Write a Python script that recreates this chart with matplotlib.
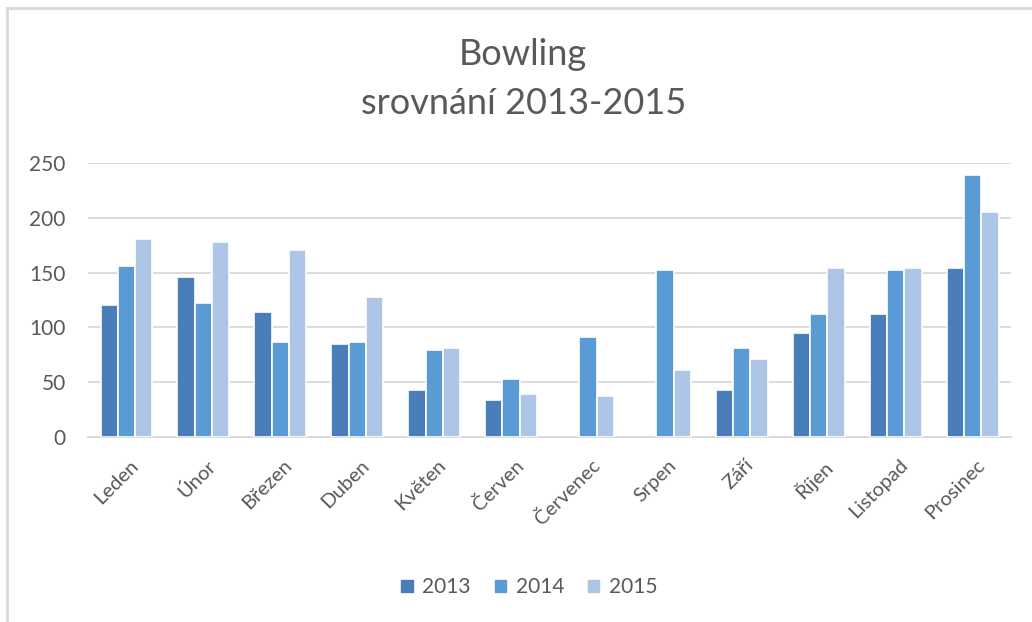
import matplotlib
matplotlib.use("Agg")
import matplotlib.pyplot as plt
import numpy as np
from matplotlib.lines import Line2D
from matplotlib.transforms import ScaledTranslation

months = ["Leden", "Únor", "Březen", "Duben", "Květen", "Červen",
          "Červenec", "Srpen", "Září", "Říjen", "Listopad", "Prosinec"]
v2013 = [120, 146, 114, 85, 43, 34, 0, 0, 43, 95, 112, 154]
v2014 = [156, 122, 87, 87, 79, 53, 91, 152, 81, 112, 152, 239]
v2015 = [181, 178, 171, 128, 81, 39, 37, 61, 71, 154, 154, 205]
series = ["2013", "2014", "2015"]
colors = ["#4A7EBB", "#5B9BD5", "#ADC5E7"]
yticks = [0, 50, 100, 150, 200, 250]

plt.rcParams['font.family'] = ['Lato', 'DejaVu Sans']
txt = "#595959"

fig = plt.figure(figsize=(10.32, 6.22), dpi=100)
ax = fig.add_axes([0.0853, 0.2974, 0.8944, 0.4406])

x = np.arange(len(months))
step = 0.225
for i, (vals, c, lab) in enumerate(zip([v2013, v2014, v2015], colors, series)):
    vv = np.array(vals, dtype=float)
    vv[vv == 0] = np.nan
    ax.bar(x + (i - 1) * step, vv, width=step, color=c, edgecolor="white",
           linewidth=1.2, label=lab, zorder=3)

ax.set_xlim(-0.5, len(months) - 0.5)
ax.set_ylim(0, 250)
ax.set_yticks(yticks)
ax.set_yticklabels([str(t) for t in yticks], fontsize=15, color=txt)
ax.grid(axis="y", color="#D9D9D9", linewidth=1.3, zorder=0)
ax.tick_params(axis="y", length=0, pad=16)
ax.set_xticks(x)
ax.set_xticklabels(months, rotation=45, ha="right", rotation_mode="anchor",
                   fontsize=14.5, color=txt)
ax.tick_params(axis="x", length=0, pad=14)
offset = ScaledTranslation(3/100, 0, fig.dpi_scale_trans)
for lbl in ax.get_xticklabels():
    lbl.set_transform(lbl.get_transform() + offset)
for s in ["top", "right", "left"]:
    ax.spines[s].set_visible(False)
ax.spines["bottom"].set_color("#D9D9D9")
ax.spines["bottom"].set_linewidth(1.3)
ax.set_axisbelow(True)

fig.text(0.507, 0.912, "Bowling", ha="center", va="center", fontsize=26, color=txt)
fig.text(0.507, 0.833, "srovnání 2013-2015", ha="center", va="center", fontsize=26, color=txt)

handles = [plt.Rectangle((0, 0), 1, 1, color=c) for c in colors]
fig.legend(handles, series, loc="center", bbox_to_anchor=(0.513, 0.056),
           ncol=3, frameon=False, fontsize=15, labelcolor=txt,
           handlelength=0.55, handleheight=0.55, handletextpad=0.45, columnspacing=1.15)

# chart border (left and top visible)
fig.add_artist(Line2D([7/1032, 7/1032], [0, 1 - 8/622], transform=fig.transFigure,
                      color="#D9D9D9", linewidth=2))
fig.add_artist(Line2D([7/1032, 1], [1 - 8/622, 1 - 8/622], transform=fig.transFigure,
                      color="#D9D9D9", linewidth=2))

fig.savefig("out.png", dpi=100)
